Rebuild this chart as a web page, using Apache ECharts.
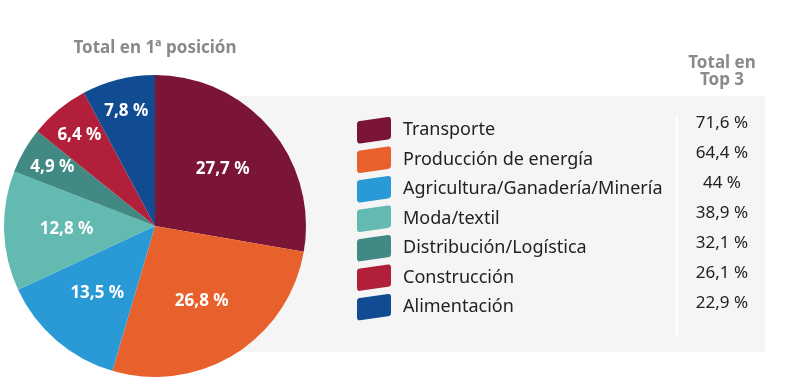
<!DOCTYPE html>
<html><head><meta charset="utf-8">
<script src="https://cdn.jsdelivr.net/npm/echarts@6/dist/echarts.min.js"></script>
<style>html,body{margin:0;padding:0;background:#fff}#c{width:810px;height:387px}</style>
</head><body><div id="c"></div>
<script>
const categories = ['Transporte','Producción de energía','Agricultura/Ganadería/Minería','Moda/textil','Distribución/Logística','Construcción','Alimentación'];
const firstPosition = [27.7, 26.8, 13.5, 12.8, 4.9, 6.4, 7.8];
const top3Labels = ['71,6 %','64,4 %','44 %','38,9 %','32,1 %','26,1 %','22,9 %'];
const colors = ['#7a1535','#e8612d','#2a9ad6','#62bab0','#418a84','#b21f3a','#114c92'];
const smallThreshold = 10;

const FONT = '"Noto Sans", sans-serif';
const fmt = v => String(v).replace('.', ',') + ' %';
const pieData = categories.map((n,i)=>({name:n, value:firstPosition[i], itemStyle:{color:colors[i]}}));
const overlay = (big) => categories.map((n,i)=>({
  name:n, value:firstPosition[i],
  label:{show: big ? firstPosition[i] >= smallThreshold : firstPosition[i] < smallThreshold}
}));
const overlayLabel = {position:'inside', color:'#fff', fontWeight:'bold', fontSize:17, fontFamily:FONT,
  formatter: p => fmt(p.value)};

const swatch = 'path://M3,5 L31,1 Q34,0.6 34,4 L34,20 Q34,23 31,23.4 L3,27.4 Q0,27.8 0,24 L0,8 Q0,5.4 3,5 Z';

const rowTop = 117, rowGap = 30;
const graphics = [
  {type:'rect', z:-10, shape:{x:240,y:96,width:525,height:256}, style:{fill:'#f5f5f5'}},
  {type:'line', z:-5, shape:{x1:677,y1:117,x2:677,y2:337}, style:{stroke:'#ffffff', lineWidth:2}},
  {type:'text', style:{x:155,y:48,text:'Total en 1ª posición',fill:'#8a8a8a',font:'bold 17px '+FONT,textAlign:'center',textVerticalAlign:'middle'}},
  {type:'text', style:{x:722,y:63,text:'Total en',fill:'#8a8a8a',font:'bold 17px '+FONT,textAlign:'center',textVerticalAlign:'middle'}},
  {type:'text', style:{x:722,y:80,text:'Top 3',fill:'#8a8a8a',font:'bold 17px '+FONT,textAlign:'center',textVerticalAlign:'middle'}},
].concat(top3Labels.map((t,i)=>({type:'text', style:{x:722, y:rowTop + 6 + i*rowGap, text:t, fill:'#222', font:'17px '+FONT, textAlign:'center', textVerticalAlign:'middle'}})));

const chart = echarts.init(document.getElementById('c'));
chart.setOption({
  animation:false,
  backgroundColor:'#fff',
  graphic: graphics,
  legend:{
    orient:'vertical', left:357, top:rowTop, padding:0, itemWidth:34, itemHeight:27, itemGap:3,
    icon: swatch, data: categories, selectedMode:false,
    textStyle:{fontSize:18, color:'#222', fontFamily:FONT, padding:[0,0,0,7]}
  },
  series:[
    {type:'pie', name:'main', center:[155,226], radius:[0,151], startAngle:90, clockwise:true,
     data: pieData, label:{show:false}, labelLine:{show:false}, silent:true},
    {type:'pie', name:'lblBig', center:[155,226], radius:[20,151], startAngle:90, clockwise:true,
     data: overlay(true), itemStyle:{color:'transparent'}, label:overlayLabel, labelLine:{show:false}, silent:true, legendHoverLink:false},
    {type:'pie', name:'lblSmall', center:[155,226], radius:[80,151], startAngle:90, clockwise:true,
     data: overlay(false), itemStyle:{color:'transparent'}, label:overlayLabel, labelLine:{show:false}, silent:true, legendHoverLink:false}
  ]
});
</script></body></html>
